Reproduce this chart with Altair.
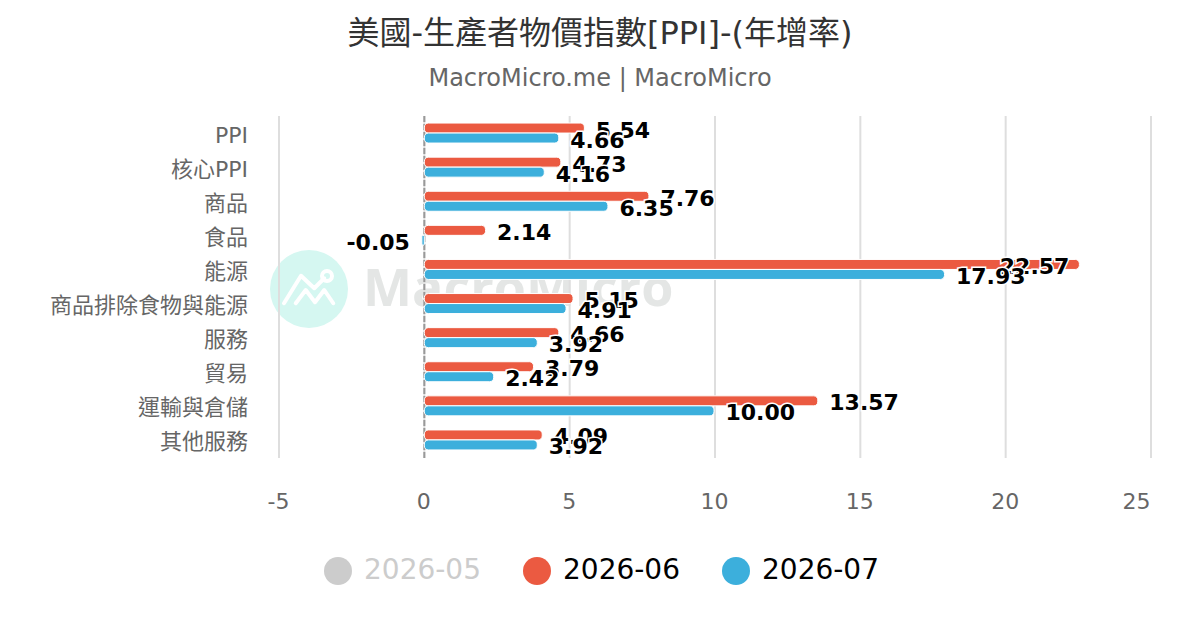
import altair as alt
import pandas as pd

categories = ["PPI", "核心PPI", "商品", "食品", "能源", "商品排除食物與能源", "服務", "貿易", "運輸與倉儲", "其他服務"]
june = [5.54, 4.73, 7.76, 2.14, 22.57, 5.15, 4.66, 3.79, 13.57, 4.09]
july = [4.66, 4.16, 6.35, -0.05, 17.93, 4.91, 3.92, 2.42, 10.00, 3.92]
series_names = ["2026-05", "2026-06", "2026-07"]
series_colors = ["#cccccc", "#eb5a41", "#3cafdc"]
x_ticks = [-5, 0, 5, 10, 15, 20, 25]
LOGO = ("M-1,0.57 L-0.32,-0.53 L0.21,-0.03 L0.61,-0.43 "
        "M0.92,-0.52 A0.2,0.2 0 1 1 0.52,-0.52 A0.2,0.2 0 1 1 0.92,-0.52 "
        "M-0.53,0.57 L-0.13,0.04 L0.24,0.53 L0.61,0.04 L0.97,0.57")

FONT = "DejaVu Sans, Noto Sans CJK TC"

jun_df = pd.DataFrame({"cat": categories, "v": june, "s": series_names[1], "lab": [f"{v:.2f}" for v in june]})
jul_df = pd.DataFrame({"cat": categories, "v": july, "s": series_names[2], "lab": [f"{v:.2f}" for v in july]})
legend_df = pd.DataFrame({"s": series_names})
tick_df = pd.DataFrame({"v": x_ticks})

xs = alt.Scale(domain=[-5, 25], nice=False, zero=False)
ys = alt.Scale(domain=categories, paddingInner=0, paddingOuter=0.0147)
X = alt.X("v:Q", scale=xs, title=None,
          axis=alt.Axis(values=x_ticks, grid=False, domain=False, ticks=False, labelFontSize=22,
                        labelColor="#666666", labelPadding=33, labelFont=FONT, labelOffset=-1,
                        labelFlush=False,
                        labelAlign=alt.ExprRef("datum.value == 25 ? 'right' : 'center'"),
                        labelExpr="'' + datum.value"))
Y = alt.Y("cat:N", scale=ys, sort=categories, title=None,
          axis=alt.Axis(domain=False, ticks=False, grid=False, labelFontSize=22, labelColor="#666666",
                        labelPadding=31.5, labelFont=FONT, labelLimit=300, labelOffset=2))
color = alt.Color("s:N", scale=alt.Scale(domain=series_names, range=series_colors), title=None,
                  legend=alt.Legend(orient="none", legendX=45, legendY=441, direction="horizontal",
                                    symbolType="circle", symbolSize=784, symbolStrokeWidth=0,
                                    labelFontSize=28, labelFont=FONT, labelOffset=12, columnPadding=42,
                                    labelColor=alt.ExprRef("datum.label=='2026-05'?'#cccccc':'#000000'"),
                                    symbolOpacity=1))

# decoration
wm_circle = alt.Chart(legend_df.head(1)).mark_point(filled=True, shape="circle", size=6084, color="#d5f7f1", opacity=1).encode(
    x=alt.value(30), y=alt.value(173))
wm_logo = alt.Chart(legend_df.head(1)).mark_point(filled=False, shape=LOGO, size=2500, stroke="white", strokeWidth=4, opacity=1,
                                                  strokeCap="round", strokeJoin="round").encode(
    x=alt.value(30), y=alt.value(173))
wm_text = alt.Chart(legend_df.head(1)).mark_text(text="MacroMicro", font="Open Sans", fontWeight="bold", fontSize=52,
                                                 color="#e4e6e5", align="left", baseline="middle").encode(
    x=alt.value(84), y=alt.value(174))

base_axes = alt.Chart(jun_df).mark_bar(opacity=0).encode(x=X, y=Y)
grid = alt.Chart(tick_df).mark_rule(color="#dedede", strokeWidth=2).encode(x=alt.X("v:Q", scale=xs))
zero = alt.Chart(pd.DataFrame({"v": [0]})).mark_rule(color="#999999", strokeWidth=2, strokeDash=[6, 2]).encode(x=alt.X("v:Q", scale=xs))


def bars(df, off):
    return alt.Chart(df).mark_bar(height=10, yOffset=off, xOffset=-1, cornerRadius=4, stroke="white", strokeWidth=1).encode(
        x=alt.X("v:Q", scale=xs), x2=alt.datum(0), y=alt.Y("cat:N", scale=ys, sort=categories), color=color)


def labels(df, dy):
    common = dict(font="DejaVu Sans", fontWeight="bold", fontSize=22, dy=dy, baseline="middle")
    enc = dict(x=alt.X("v:Q", scale=xs), y=alt.Y("cat:N", scale=ys, sort=categories), text="lab:N")
    out = []
    groups = (
        (df[(df.v >= 0) & (df.v <= 20)], "left", 10.5),
        (df[df.v > 20], "right", -11),
        (df[df.v < 0], "right", -13),
    )
    for part, align, dx in groups:
        if part.empty:
            continue
        out.append(alt.Chart(part).mark_text(align=align, dx=dx, stroke="white", strokeWidth=3, color="white", **common).encode(**enc))
        out.append(alt.Chart(part).mark_text(align=align, dx=dx, color="black", **common).encode(**enc))
    return out


layers = [base_axes, wm_circle, wm_logo, wm_text, grid, zero, bars(jun_df, -5.5), bars(jul_df, 4.5)] + labels(jun_df, -3) + labels(jul_df, 7)

chart = alt.layer(*layers).properties(
    width=872, height=342,
    title=alt.TitleParams(text="美國-生產者物價指數[PPI]-(年增率)", subtitle="MacroMicro.me | MacroMicro",
                          anchor="middle", dx=-115, font=FONT, fontSize=32, fontWeight="normal", color="#333333",
                          subtitleFont=FONT, subtitleFontSize=24, subtitleColor="#666666", subtitlePadding=16, offset=23),
    autosize="none",
    padding={"left": 271, "top": 108, "right": 41, "bottom": 164},
).configure_view(stroke=None).resolve_scale(x="shared", y="shared")

chart.save("out.html", embed_options={"renderer": "svg", "actions": False})
